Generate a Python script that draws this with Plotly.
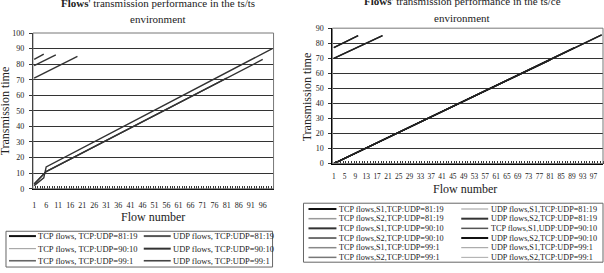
import plotly.graph_objects as go

W, H = 604, 273
FONT = "Liberation Serif"

# ---------------- data: left chart (ts/ts) ----------------
left_tick_vals = [1, 6, 11, 16, 21, 26, 31, 36, 41, 46, 51, 56, 61, 66, 71, 76, 81, 86, 91, 96]
left_tick_text = ["1", "6", "11", "16", "21", "26", "31", "36", "41", "46", "51", "56", "61",
                  "66", "71", "76", "81", "86", "91", "96"]
left_names = ["TCP flows, TCP:UDP=81:19", "UDP flows, TCP:UDP=81:19",
              "TCP flows, TCP:UDP=90:10", "UDP flows, TCP:UDP=90:10",
              "TCP flows, TCP:UDP=99:1", "UDP flows, TCP:UDP=99:1"]
tcp81_x = [1, 5, 6, 81];   tcp81_y = [3, 9, 11, 71]
udp81_x = [1, 19];         udp81_y = [71, 85]
tcp90_x = [1, 5, 6, 96];   tcp90_y = [3, 9, 11, 83]
udp90_x = [1, 10];         udp90_y = [79, 86]
tcp99_x = [1, 5, 6, 100];  tcp99_y = [2, 7, 14, 90]
udp99_x = [1, 5];          udp99_y = [83, 86.5]
left_series = [(tcp81_x, tcp81_y), (udp81_x, udp81_y), (tcp90_x, tcp90_y),
               (udp90_x, udp90_y), (tcp99_x, tcp99_y), (udp99_x, udp99_y)]

# ---------------- data: right chart ----------------
right_tick_vals = [1, 5, 9, 13, 17, 21, 25, 29, 33, 37, 41, 45, 49, 53, 57, 61, 65, 69, 73,
                   77, 81, 85, 89, 93, 97]
right_tick_text = ["1", "5", "9", "13", "17", "21", "25", "29", "33", "37", "41", "45", "49",
                   "53", "57", "61", "65", "69", "73", "77", "81", "85", "89", "93", "97"]
right_names = ["TCP flows,S1,TCP:UDP=81:19", "UDP flows,S1,TCP:UDP=81:19",
               "TCP flows,S2,TCP:UDP=81:19", "UDP flows,S2,TCP:UDP=81:19",
               "TCP flows,S1,TCP:UDP=90:10", "TCP flows,S1,UDP:UDP=90:10",
               "TCP flows,S2,TCP:UDP=90:10", "UDP flows,S2,TCP:UDP=90:10",
               "TCP flows,S1,TCP:UDP=99:1", "UDP flows,S1,TCP:UDP=99:1",
               "TCP flows,S2,TCP:UDP=99:1", "UDP flows,S2,TCP:UDP=99:1"]
r_tcp81_x = [1, 81];  r_tcp81_y = [0, 69]
r_udp81_x = [1, 19];  r_udp81_y = [70, 85]
r_tcp90_x = [1, 90];  r_tcp90_y = [0, 77]
r_udp90_x = [1, 10];  r_udp90_y = [77, 85]
r_tcp99_x = [1, 100]; r_tcp99_y = [0, 85.5]
r_udp99_x = [1];      r_udp99_y = [84]
right_series = [(r_tcp81_x, r_tcp81_y), (r_udp81_x, r_udp81_y),
                (r_tcp81_x, r_tcp81_y), (r_udp81_x, r_udp81_y),
                (r_tcp90_x, r_tcp90_y), (r_udp90_x, r_udp90_y),
                (r_tcp90_x, r_tcp90_y), (r_udp90_x, r_udp90_y),
                (r_tcp99_x, r_tcp99_y), (r_udp99_x, r_udp99_y),
                (r_tcp99_x, r_tcp99_y), (r_udp99_x, r_udp99_y)]

# legend styles
left_styles = [("#111", 2), ("#555", 2), ("#999", 1), ("#333", 2), ("#666", 1.6), ("#444", 1.6)]
right_styles = [("#111", 2), ("#999", 1), ("#999", 1.5), ("#333", 2), ("#333", 2), ("#555", 1.5),
                ("#444", 1.5), ("#111", 2), ("#888", 1.5), ("#999", 1), ("#777", 1.5), ("#aaa", 1)]


def px(x):
    return x / W


def py(y):
    return 1 - y / H


fig = go.Figure()
for (xs, ys), name in zip(left_series, left_names):
    fig.add_trace(go.Scatter(x=xs, y=ys, mode="lines", name=name, xaxis="x", yaxis="y",
                             line=dict(color="#333", width=1.4), showlegend=False))
for (xs, ys), name in zip(right_series, right_names):
    fig.add_trace(go.Scatter(x=xs, y=ys, mode="lines", name=name, xaxis="x2", yaxis="y2",
                             line=dict(color="#222", width=1.4), showlegend=False))

tickfont = dict(family=FONT, size=8, color="#222")
minor = dict(tickmode="linear", tick0=0.5, dtick=1, ticks="inside", ticklen=3,
             tickcolor="#333", tickwidth=1, showgrid=False)

common_x = dict(tickmode="array", ticks="", showgrid=False, showline=True, linecolor="#000",
                linewidth=1, zeroline=False, range=[0.5, 100.5], minor=minor)
common_y = dict(dtick=10, tick0=0, showgrid=True, gridcolor="#333", gridwidth=1,
                showline=True, linecolor="#000", linewidth=1, zeroline=False,
                ticks="outside", ticklen=3, tickcolor="#333", tickfont=tickfont,
                ticklabelstandoff=3)

fig.update_layout(
    width=W, height=H, margin=dict(l=0, r=0, t=0, b=0),
    paper_bgcolor="white", plot_bgcolor="white", showlegend=False,
    xaxis=dict(domain=[px(32), px(273)], anchor="y", tickvals=left_tick_vals,
               ticktext=left_tick_text, tickfont=tickfont, ticklabelstandoff=9, **common_x),
    yaxis=dict(domain=[py(191), py(30)], anchor="x", range=[0, 100], **common_y),
    xaxis2=dict(domain=[px(332), px(603)], anchor="y2", tickvals=right_tick_vals,
                ticktext=right_tick_text, tickfont=dict(family=FONT, size=7.4, color="#222"),
                ticklabelstandoff=6, **common_x),
    yaxis2=dict(domain=[py(165), py(25)], anchor="x2", range=[0, 90], **common_y),
)

shapes = []
annotations = []
# plot-area borders
for xr, yr in (("x domain", "y domain"), ("x2 domain", "y2 domain")):
    shapes.append(dict(type="rect", xref=xr, yref=yr, x0=0, x1=1, y0=0, y1=1,
                       line=dict(color="#777", width=1), layer="above"))


def ann(x, y, text, size, **kw):
    d = dict(x=px(x), y=py(y), xref="paper", yref="paper", text=text, showarrow=False,
             font=dict(family=FONT, size=size, color="#222"), xanchor="center",
             yanchor="middle")
    d.update(kw)
    annotations.append(d)

# titles (first line partly out of frame, as in the reference)
ann(157, -1, "<b>Flows</b>' transmission performance in the ts/ts", 11)
ann(157, 16, "environment", 11)
ann(462, -3, "<b>Flows</b>' transmission performance in the ts/ce", 11)
ann(462, 14, "environment", 11)

# axis titles
ann(152, 220, "Flow number", 12)
ann(465, 191, "Flow number", 12)
ann(4, 110, "Transmission time", 12, textangle=-90)
ann(306, 96, "Transmission time", 12, textangle=-90)

# legend boxes
shapes.append(dict(type="rect", xref="paper", yref="paper", x0=px(5), x1=px(272),
                   y0=py(272), y1=py(235), line=dict(color="#666", width=1)))
shapes.append(dict(type="rect", xref="paper", yref="paper", x0=px(303), x1=px(603),
                   y0=py(267), y1=py(206), line=dict(color="#666", width=1)))

left_rows = [240, 253, 265.5]
left_cols = [(8, 35), (143, 170)]
for i, (name, (col, wdt)) in enumerate(zip(left_names, left_styles)):
    r, c = divmod(i, 2)
    x0, x1 = left_cols[c]
    y = left_rows[r]
    shapes.append(dict(type="line", xref="paper", yref="paper", x0=px(x0), x1=px(x1),
                       y0=py(y), y1=py(y), line=dict(color=col, width=wdt)))
    ann(x1 + 0.5, y, name, 8.5, xanchor="left")

right_rows = [212, 222, 232, 242, 252, 262]
right_cols = [(308, 336), (461, 488)]
for i, (name, (col, wdt)) in enumerate(zip(right_names, right_styles)):
    r, c = divmod(i, 2)
    x0, x1 = right_cols[c]
    y = right_rows[r]
    shapes.append(dict(type="line", xref="paper", yref="paper", x0=px(x0), x1=px(x1),
                       y0=py(y), y1=py(y), line=dict(color=col, width=wdt)))
    ann(x1 + 0.5, y, name, 8.2, xanchor="left")

fig.update_layout(shapes=shapes, annotations=annotations)
fig.write_html("out.html")
